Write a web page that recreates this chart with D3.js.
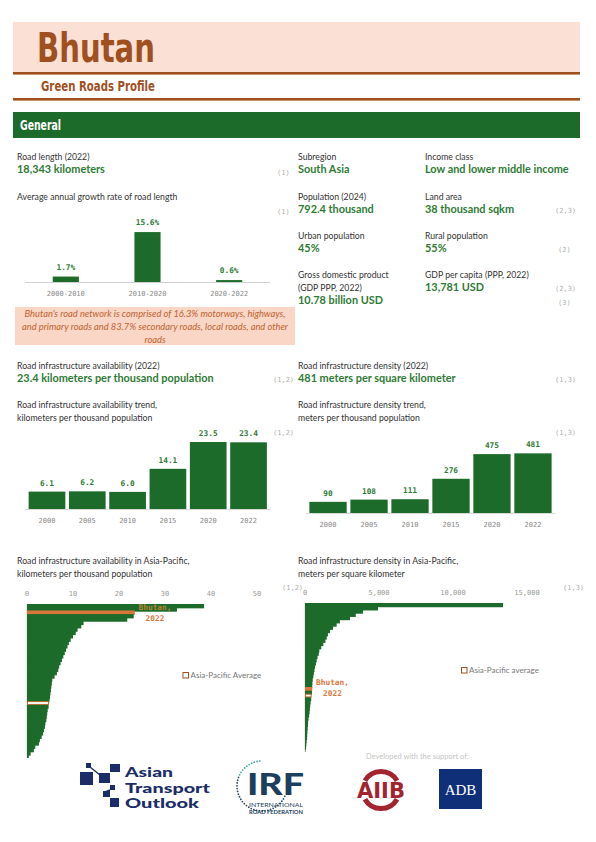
<!DOCTYPE html>
<html><head><meta charset="utf-8">
<script src="https://cdn.jsdelivr.net/npm/d3@7/dist/d3.min.js"></script>
<style>body{margin:0;background:#fff}svg{display:block}</style>
</head><body>
<script>
// ---------- DATA ----------
const country = "Bhutan";
const growthCats = ["2000-2010", "2010-2020", "2020-2022"];
const growthVals = [1.7, 15.6, 0.6];
const trendYears = ["2000", "2005", "2010", "2015", "2020", "2022"];
const availVals = [6.1, 6.2, 6.0, 14.1, 23.5, 23.4];
const densVals = [90, 108, 111, 276, 475, 481];
const availTicks = [0, 10, 20, 30, 40, 50];
const densTicks = [0, 5000, 10000, 15000];
const bhutanAvail = 23.4, avgAvail = 4.8;
const bhutanDens = 481, avgDens = 450;
const apAvailOthers = [38.5, 32.6, 23.2, 21.8, 12.3, 11.8, 11.0, 10.6, 10.0, 9.5, 9.1, 8.8, 8.5, 8.2, 7.9, 7.6, 7.3, 7.0, 6.8, 6.5, 6.0, 5.5, 5.4, 5.3, 5.2, 5.1, 5.0, 4.9, 4.7, 4.5, 4.4, 4.3, 4.2, 4.0, 3.9, 3.7, 3.5, 3.2, 2.8, 2.6, 1.8, 1.5, 0.8, 0.4];
const apDensOthers = [13380, 4930, 3920, 3430, 3040, 2360, 2140, 1900, 1690, 1550, 1470, 1380, 1240, 1100, 970, 930, 850, 790, 740, 680, 640, 600, 560, 520, 500, 490, 470, 420, 380, 350, 330, 310, 280, 240, 210, 200, 180, 160, 150, 140, 110, 90, 70, 30];
const facts = [
  ["Road length (2022)", "18,343 kilometers"],
  ["Subregion", "South Asia"], ["Income class", "Low and lower middle income"],
  ["Population (2024)", "792.4 thousand"], ["Land area", "38  thousand sqkm"],
  ["Urban population", "45%"], ["Rural population", "55%"],
  ["Gross domestic product|(GDP PPP, 2022)", "10.78 billion USD"], ["GDP per capita (PPP, 2022)", "13,781  USD"],
  ["Road infrastructure availability (2022)", "23.4 kilometers per thousand population"],
  ["Road infrastructure density (2022)", "481 meters per square kilometer"]
];
const noteLines = ["Bhutan's road network is comprised of 16.3% motorways, highways,",
  "and primary roads and 83.7% secondary roads, local roads, and other", "roads"];

// ---------- STYLE ----------
const GREEN = "#1d6b2b", VGREEN = "#2f7b35", BROWN = "#a0501f", PINK = "#fbe1d5",
  NOTEPINK = "#f9d6c6", ORANGE = "#d9773a", TXT = "#333";
const BODY = "Lato, 'Open Sans', sans-serif", MONO = "'DejaVu Sans Mono', monospace",
  NARROW = "'Liberation Sans Narrow', 'DejaVu Sans Condensed', sans-serif";

const svg = d3.select("body").append("svg").attr("width", 596).attr("height", 842);
function txt(x, y, s, o = {}) {
  const t = svg.append("text").attr("x", x).attr("y", y).text(s)
    .attr("font-family", o.ff || BODY).attr("font-size", o.fs || 8.5)
    .attr("font-weight", o.fw || 400).attr("font-style", o.fst || "normal")
    .attr("fill", o.fill || TXT).attr("text-anchor", o.anchor || "start");
  if (o.len) t.attr("textLength", o.len).attr("lengthAdjust", "spacingAndGlyphs");
  return t;
}

// ---------- HEADER ----------
svg.append("rect").attr("x", 13).attr("y", 22).attr("width", 567).attr("height", 50).attr("fill", PINK);
svg.append("rect").attr("x", 13).attr("y", 72).attr("width", 567).attr("height", 2.6).attr("fill", BROWN);
svg.append("rect").attr("x", 13).attr("y", 98).attr("width", 567).attr("height", 2.6).attr("fill", BROWN);
txt(37, 62, country, {ff: NARROW, fs: 40, fw: 700, fill: BROWN, len: 118});
txt(41, 91, "Green Roads Profile", {ff: NARROW, fs: 14.5, fw: 700, fill: BROWN, len: 114});
svg.append("rect").attr("x", 13).attr("y", 112).attr("width", 567).attr("height", 26).attr("fill", GREEN);
txt(20, 130, "General", {ff: NARROW, fs: 14, fw: 700, fill: "#fff", len: 41});

// ---------- FACTS ----------
const factPos = [[17, 160], [298, 160], [425, 160], [298, 200], [425, 200], [298, 239], [425, 239],
  [298, 278], [425, 278], [17, 369], [298, 369]];
facts.forEach((f, i) => {
  const [x, y] = factPos[i];
  const lines = f[0].split("|");
  lines.forEach((l, j) => txt(x, y + j * 12.5, l, {fs: 8.7}));
  txt(x, y + lines.length * 12.5 + 0.5 + (i === 7 ? 0.5 : 0), f[1], {fs: 10.9, fw: 700, fill: VGREEN});
});
const refs = [["(1)", 277, 175], ["(1)", 277, 214], ["(2,3)", 555, 213], ["(2)", 558, 252], ["(2,3)", 555, 291],
  ["(3)", 558, 305], ["(1,2)", 273, 382], ["(1,3)", 555, 382], ["(1,2)", 273, 435], ["(1,3)", 555, 435],
  ["(1,2)", 282, 590], ["(1,3)", 563, 590]];
refs.forEach(r => txt(r[1], r[2], r[0], {ff: MONO, fs: 7, fill: "#b0b0b0"}));

// ---------- GROWTH CHART ----------
txt(17, 200, "Average annual growth rate of road length", {fs: 8.7});
const gx = d3.scaleBand().domain(growthCats).range([25, 270]).paddingInner(0.68).paddingOuter(0.34);
const gy = d3.scaleLinear().domain([0, 16]).range([282, 230.8]);
svg.append("line").attr("x1", 25).attr("x2", 270).attr("y1", 282.5).attr("y2", 282.5).attr("stroke", "#d0d0d0");
growthCats.forEach((c, i) => {
  svg.append("rect").attr("x", gx(c)).attr("y", gy(growthVals[i])).attr("width", gx.bandwidth())
    .attr("height", gy(0) - gy(growthVals[i])).attr("fill", GREEN);
  txt(gx(c) + gx.bandwidth() / 2, gy(growthVals[i]) - 7, growthVals[i].toFixed(1) + "%", {ff: MONO, fs: 7.8, fw: 700, fill: VGREEN, anchor: "middle"});
  txt(gx(c) + gx.bandwidth() / 2, 296, c, {ff: MONO, fs: 7, fill: "#888", anchor: "middle"});
});
svg.append("rect").attr("x", 15).attr("y", 307).attr("width", 280).attr("height", 38).attr("fill", NOTEPINK);
noteLines.forEach((l, i) => txt(155, 317 + i * 13, l, {fs: 9.3, fst: "italic", fill: "#c0622f", anchor: "middle"}));

// ---------- TREND CHARTS ----------
function trend(x0, x1, base, ymax, hmax, vals, fmt, title1, title2, tx) {
  txt(tx, 408, title1, {fs: 8.7});
  txt(tx, 421, title2, {fs: 8.7});
  const x = d3.scaleBand().domain(trendYears).range([x0, x1]).padding(0.09);
  const y = d3.scaleLinear().domain([0, ymax]).range([base, base - hmax]);
  svg.append("line").attr("x1", x0).attr("x2", x1).attr("y1", base + 0.5).attr("y2", base + 0.5).attr("stroke", "#d8d8d8");
  trendYears.forEach((yr, i) => {
    svg.append("rect").attr("x", x(yr)).attr("y", y(vals[i])).attr("width", x.bandwidth())
      .attr("height", y(0) - y(vals[i])).attr("fill", GREEN);
    txt(x(yr) + x.bandwidth() / 2, y(vals[i]) - 6, fmt(vals[i]), {ff: MONO, fs: 7.8, fw: 700, fill: VGREEN, anchor: "middle"});
    txt(x(yr) + x.bandwidth() / 2, base + 14, yr, {ff: MONO, fs: 7, fill: "#888", anchor: "middle"});
  });
}
trend(25, 270.5, 509, 25, 71.25, availVals, v => v.toFixed(1),
  "Road infrastructure availability trend,", "kilometers per thousand population", 17);
trend(305.7, 555.3, 513, 500, 62, densVals, v => String(v),
  "Road infrastructure density trend,", "meters per thousand population", 298);

// ---------- ASIA-PACIFIC CHARTS ----------
function apChart(others, bhutanVal, avgVal, x0, x1, dmax, ticks, tickFmt, y0, y1, tx, t1, t2, legX, legY, legTxt, lbl) {
  txt(tx, 564, t1, {fs: 8.7});
  txt(tx, 577, t2, {fs: 8.7});
  const rows = others.map(v => ({v, type: "c"}))
    .concat([{v: bhutanVal, type: "b"}, {v: avgVal, type: "a"}])
    .sort((a, b) => b.v - a.v || (a.type === "b" ? -1 : 1));
  const x = d3.scaleLinear().domain([0, dmax]).range([x0, x1]);
  const y = d3.scaleBand().domain(d3.range(rows.length)).range([y0, y1]).padding(0);
  ticks.forEach(t => txt(x(t), lbl.tickY, tickFmt(t), {ff: MONO, fs: 7, fill: "#999", anchor: "middle"}));
  svg.append("line").attr("x1", x0).attr("x2", x0).attr("y1", y0).attr("y2", y1).attr("stroke", "#c8c8c8").attr("stroke-width", 0.8);
  rows.forEach((r, i) => {
    if (r.type !== "a") {
      svg.append("rect").attr("x", x(0)).attr("y", y(i)).attr("width", x(r.v) - x(0))
        .attr("height", y.bandwidth() + (i < rows.length - 1 ? 1 : 0)).attr("fill", r.type === "b" ? ORANGE : GREEN);
    }
  });
  rows.forEach((r, i) => {
    if (r.type === "b") {
      svg.append("rect").attr("x", x(0)).attr("y", y(i)).attr("width", x(r.v) - x(0))
        .attr("height", y.bandwidth()).attr("fill", ORANGE);
    } else if (r.type === "a") {
      svg.append("rect").attr("x", x(0) + 0.5).attr("y", y(i) + 0.5).attr("width", x(r.v) - x(0) - 1)
        .attr("height", y.bandwidth() - 0.5).attr("fill", "#fff").attr("stroke", "#b06a2a").attr("stroke-width", 1);
    }
  });
  svg.append("rect").attr("x", legX).attr("y", legY - 3).attr("width", 5.5).attr("height", 5.5)
    .attr("fill", "#fff").attr("stroke", "#a0501f").attr("stroke-width", 1);
  txt(legX + 7.5, legY + 2.8, legTxt, {fs: 8, fill: "#777"});
  txt(lbl.x, lbl.y1, "Bhutan,", {ff: MONO, fs: 7.8, fw: 700, fill: lbl.c1, anchor: lbl.anchor});
  txt(lbl.x2, lbl.y2, "2022", {ff: MONO, fs: 7.8, fw: 700, fill: ORANGE, anchor: lbl.anchor});
}
apChart(apAvailOthers, bhutanAvail, avgAvail, 27, 257, 50, availTicks, d => String(d), 604, 758, 17,
  "Road infrastructure availability in Asia-Pacific,", "kilometers per thousand population",
  183, 675.5, "Asia-Pacific Average",
  {tickY: 596, x: 155, y1: 610, x2: 155, y2: 620.5, c1: "#b9822e", anchor: "middle"});
apChart(apDensOthers, bhutanDens, avgDens, 305, 527, 15000, densTicks, d3.format(","), 603, 752, 298,
  "Road infrastructure density in Asia-Pacific,", "meters per square kilometer",
  461.5, 670.5, "Asia-Pacific average",
  {tickY: 595, x: 332.5, y1: 685, x2: 332.5, y2: 696, c1: ORANGE, anchor: "middle"});

// ---------- FOOTER LOGOS ----------
txt(366, 759, "Developed with the support of:", {fs: 7.5, fill: "#c4c4c4"});
const NAVY = "#1b2d69";
[[80, 772, 13, 13], [99, 773, 11, 10], [110, 764, 10, 8], [86, 763, 5, 5], [110, 785, 5, 5],
 [103, 791, 7, 6], [110, 798, 9, 9]].forEach(s =>
  svg.append("rect").attr("x", s[0]).attr("y", s[1]).attr("width", s[2]).attr("height", s[3]).attr("fill", NAVY));
svg.append("line").attr("x1", 90).attr("y1", 767).attr("x2", 100).attr("y2", 775).attr("stroke", NAVY).attr("stroke-width", 1.5);
svg.append("line").attr("x1", 110).attr("y1", 790).attr("x2", 105).attr("y2", 792).attr("stroke", NAVY).attr("stroke-width", 1.5);
["Asian", "Transport", "Outlook"].forEach((w, i) =>
  txt(125, 777 + i * 15.5, w, {ff: "Lato, sans-serif", fs: 12.6, fw: 900, fill: NAVY, len: [48, 85, 74][i]}));
// IRF
const irfCx = 262, irfCy = 786, irfR = 25;
d3.range(0, 38).forEach(k => {
  const a = (95 + k * 6.5) * Math.PI / 180;
  svg.append("circle").attr("cx", irfCx + irfR * Math.cos(a)).attr("cy", irfCy - irfR * Math.sin(a))
    .attr("r", 0.9).attr("fill", k < 10 ? "#4aa7a0" : "#2b4a66");
});
txt(247, 795, "IRF", {ff: "Lato, sans-serif", fs: 31, fw: 900, fill: "#1c3f5e", len: 57});
txt(249, 807, "INTERNATIONAL", {ff: "Lato, sans-serif", fs: 5.2, fill: "#1c3f5e", len: 54});
txt(249, 813.6, "ROAD FEDERATION", {ff: "Lato, sans-serif", fs: 4.8, fw: 700, fill: "#1c3f5e", len: 54});
// AIIB
const AIIB = "#a3232e";
const arc = d3.arc().innerRadius(16).outerRadius(21);
svg.append("path").attr("d", arc({startAngle: -1.05, endAngle: 1.05})).attr("transform", "translate(381,790)").attr("fill", AIIB);
svg.append("path").attr("d", arc({startAngle: Math.PI - 1.05, endAngle: Math.PI + 1.05})).attr("transform", "translate(381,790)").attr("fill", AIIB);
txt(381, 798, "AIIB", {ff: "'DejaVu Sans', sans-serif", fs: 21, fw: 700, fill: AIIB, anchor: "middle", len: 48});
// ADB
svg.append("rect").attr("x", 439).attr("y", 769).attr("width", 43).attr("height", 40).attr("fill", "#0f2f78");
txt(460.5, 795, "ADB", {ff: "'Liberation Serif', serif", fs: 15, fill: "#fff", anchor: "middle"});
</script>
</body></html>
